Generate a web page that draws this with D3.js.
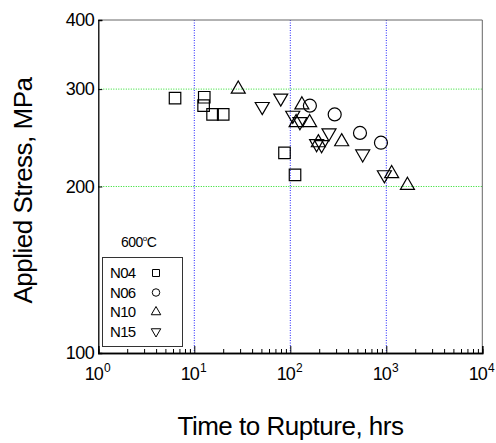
<!DOCTYPE html>
<html>
<head>
<meta charset="utf-8">
<script src="https://cdn.jsdelivr.net/npm/d3@7"></script>
<style>
  body { margin: 0; background: #fff; }
  svg text { font-family: "Liberation Sans", Arial, sans-serif; fill: #000; }
</style>
</head>
<body>
<svg width="496" height="443"></svg>
<script>
// series: [hours, MPa]
const n04 = [[6.3, 289], [12.7, 290], [12.5, 280], [15.5, 270], [20, 270], [87, 230], [112, 210]];
const n06 = [[160, 280], [290, 270], [532, 250], [880, 240]];
const n10 = [[28.7, 300], [132, 281], [115, 261], [159, 261], [196, 240], [343, 241], [1137, 211], [1660, 201]];
const n15 = [[51, 279], [79.5, 289], [106, 269], [126, 262], [188, 239], [212, 238], [253, 250], [568, 229], [955, 210]];
const seriesNames = ['N04', 'N06', 'N10', 'N15'];
const xTicks = [1, 10, 100, 1000, 10000];
const yTicks = [100, 200, 300, 400];

const svg = d3.select('svg');
const pLeft = 98.3, pRight = 482.3, pTop = 20, pBottom = 353;

const x = d3.scaleLog().domain([1, 10000]).range([pLeft, pRight]);
const y = d3.scaleLog().domain([100, 400]).range([pBottom, pTop]);

// grid
svg.selectAll('.vgrid').data([10, 100, 1000]).enter().append('line')
  .attr('x1', d => x(d)).attr('x2', d => x(d))
  .attr('y1', pTop).attr('y2', pBottom)
  .attr('stroke', '#2222ff').attr('stroke-width', 1).attr('stroke-dasharray', '1,1.5');
svg.selectAll('.hgrid').data([200, 300]).enter().append('line')
  .attr('x1', pLeft).attr('x2', pRight)
  .attr('y1', d => y(d)).attr('y2', d => y(d))
  .attr('stroke', '#22dd22').attr('stroke-width', 1).attr('stroke-dasharray', '1,1.5');

// frame
svg.append('line').attr('x1', pLeft).attr('x2', pRight).attr('y1', pTop).attr('y2', pTop).attr('stroke', '#666');
svg.append('line').attr('x1', pRight).attr('x2', pRight).attr('y1', pTop).attr('y2', pBottom).attr('stroke', '#666');

// bottom axis ticks (inward)
const minor = [];
for (let e = 0; e < 4; e++) for (let k = 2; k <= 9; k++) minor.push(k * Math.pow(10, e));
const xAxis = svg.append('g').attr('transform', `translate(0,${pBottom})`);
xAxis.call(d3.axisBottom(x).tickValues(minor).tickSize(-4).tickFormat(''));
xAxis.append('g').call(d3.axisBottom(x).tickValues(xTicks).tickSize(-7).tickFormat(''));
xAxis.selectAll('.domain').attr('stroke', '#000').attr('stroke-width', 1.3);
xAxis.selectAll('.tick line').attr('stroke', '#000');

svg.selectAll('.xlab').data(xTicks).enter().append('text')
  .attr('x', d => x(d) - 1).attr('y', pBottom + 27)
  .attr('text-anchor', 'middle').attr('font-size', 18).attr('letter-spacing', -0.8)
  .each(function(d) {
    const t = d3.select(this);
    t.append('tspan').text('10');
    t.append('tspan').attr('dy', -8).attr('dx', 1).attr('font-size', 12).text(Math.round(Math.log10(d)));
  });

// left axis
const yAxis = svg.append('g').attr('transform', `translate(${pLeft},0)`);
yAxis.call(d3.axisLeft(y).tickValues(yTicks).tickSize(-4).tickFormat(''));
yAxis.selectAll('.domain').attr('stroke', '#000').attr('stroke-width', 1.3);
yAxis.selectAll('.tick line').attr('stroke', '#000');
svg.selectAll('.ylab').data(yTicks).enter().append('text')
  .attr('x', pLeft - 4).attr('y', d => y(d) + 6)
  .attr('text-anchor', 'end').attr('font-size', 18).attr('letter-spacing', -0.5)
  .text(d => d);

// titles
svg.append('text').attr('x', 290.5).attr('y', 435).attr('text-anchor', 'middle')
  .attr('font-size', 26).attr('letter-spacing', -0.5).text('Time to Rupture, hrs');
svg.append('text').attr('transform', 'translate(32,190.5) rotate(-90)').attr('text-anchor', 'middle')
  .attr('font-size', 26).attr('letter-spacing', -0.5).text('Applied Stress, MPa');

// markers
const tri = (s, down) => {
  const h = s * Math.sqrt(3) / 2;
  const a = down ? -1 : 1;
  return `M0,${-a * 2 * h / 3}L${s / 2},${a * h / 3}L${-s / 2},${a * h / 3}Z`;
};
const shapes = [
  s => d3.symbol(d3.symbolSquare, s * s)(),
  s => d3.symbol(d3.symbolCircle, Math.PI * s * s / 4)(),
  s => tri(s, false),
  s => tri(s, true)
];
const allSeries = [n04, n06, n10, n15];
const sizes = [11.5, 13, 14, 14];

allSeries.forEach((data, i) => {
  svg.selectAll('.s' + i).data(data).enter().append('path')
    .attr('transform', d => `translate(${x(d[0])},${y(d[1])})`)
    .attr('d', shapes[i](sizes[i]))
    .attr('fill', 'none').attr('stroke', '#000').attr('stroke-width', 1.2);
});

// legend
svg.append('text').attr('x', 121).attr('y', 247).attr('font-size', 14).attr('letter-spacing', -0.5)
  .each(function() {
    const t = d3.select(this);
    t.append('tspan').text('600');
    t.append('tspan').attr('dy', -6).attr('font-size', 8).text('o');
    t.append('tspan').attr('dy', 6).text('C');
  });
svg.append('rect').attr('x', 102.5).attr('y', 257.5).attr('width', 80).attr('height', 89)
  .attr('fill', '#fff').attr('stroke', '#333').attr('stroke-width', 1);
const legSizes = [7, 7.5, 9.5, 9.5];
seriesNames.forEach((name, i) => {
  const ly = 273 + i * 19.5;
  svg.append('text').attr('x', 110).attr('y', ly + 5.3).attr('font-size', 15).attr('letter-spacing', -0.7).text(name);
  svg.append('path').attr('transform', `translate(156,${ly})`).attr('d', shapes[i](legSizes[i]))
    .attr('fill', 'none').attr('stroke', '#000').attr('stroke-width', 1);
});
</script>
</body>
</html>
